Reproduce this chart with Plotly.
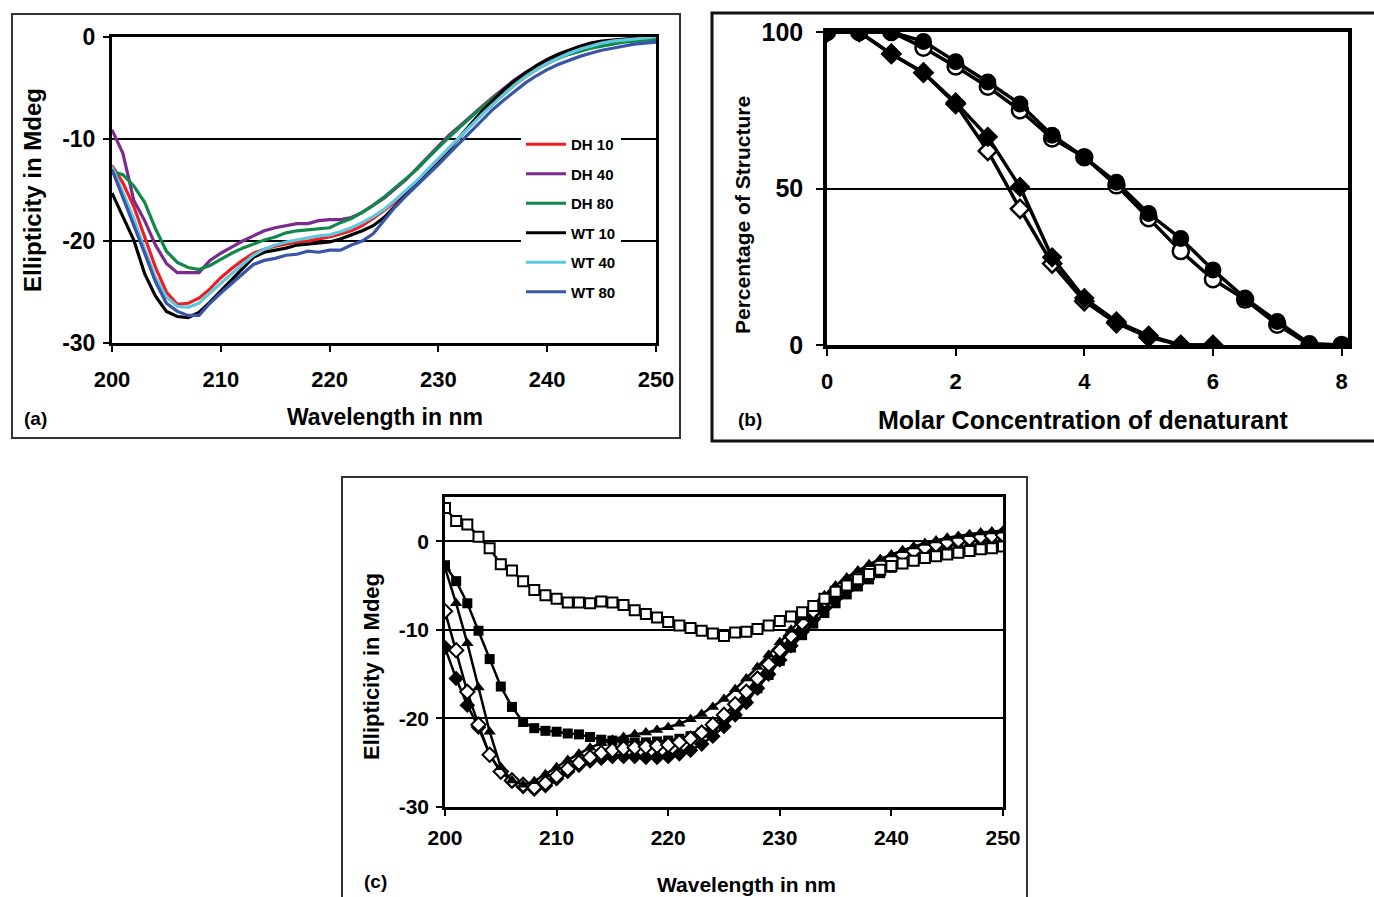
import plotly.graph_objects as go

W, H = 1374, 897
FONT = "Arial, Liberation Sans, sans-serif"

# ---------------- Panel (a) data ----------------
wl_a = list(range(200, 251))
dh10 = [-12.6, -14.3, -16.6, -19.5, -22.6, -25.0, -26.2, -26.1, -25.6, -24.7, -23.6, -22.7, -21.9, -21.2, -20.8, -20.5,
        -20.3, -20.1, -20.0, -19.8, -19.6, -19.3, -19.0, -18.5, -17.8, -17.0, -16.2, -15.3, -14.4, -13.3, -12.1, -10.9,
        -9.7, -8.6, -7.5, -6.5, -5.6, -4.7, -3.9, -3.2, -2.6, -2.0, -1.5, -1.1, -0.8, -0.6, -0.4, -0.25, -0.15, -0.05, 0.0]
dh40 = [-9.1, -11.4, -16.0, -18.0, -20.4, -22.2, -23.1, -23.1, -23.1, -21.9, -21.2, -20.6, -20.0, -19.5, -19.0, -18.7,
        -18.5, -18.3, -18.3, -18.0, -17.9, -17.9, -17.7, -17.2, -16.5, -15.8, -14.9, -14.0, -12.9, -11.8, -10.6, -9.6,
        -8.7, -7.7, -6.8, -5.9, -5.0, -4.2, -3.5, -2.9, -2.3, -1.8, -1.4, -1.1, -0.8, -0.6, -0.5, -0.4, -0.3, -0.2, -0.2]
dh80 = [-13.2, -13.5, -14.6, -16.2, -18.8, -21.0, -22.1, -22.6, -22.8, -22.4, -21.8, -21.2, -20.7, -20.3, -19.9, -19.6,
        -19.2, -19.0, -18.9, -18.8, -18.7, -18.2, -17.8, -17.2, -16.5, -15.7, -14.8, -13.9, -13.0, -11.9, -10.8, -9.8,
        -8.8, -7.8, -6.9, -6.0, -5.2, -4.4, -3.7, -3.1, -2.6, -2.1, -1.7, -1.4, -1.1, -0.9, -0.7, -0.5, -0.4, -0.3, -0.3]
wt10 = [-15.3, -17.6, -19.9, -23.2, -25.4, -26.9, -27.4, -27.5, -27.0, -26.0, -24.9, -23.8, -22.6, -21.6, -21.1, -20.9,
        -20.7, -20.4, -20.3, -20.2, -20.1, -19.8, -19.4, -19.0, -18.5, -17.7, -16.6, -15.5, -14.5, -13.4, -12.2, -11.0,
        -9.7, -8.5, -7.3, -6.2, -5.2, -4.3, -3.5, -2.8, -2.2, -1.7, -1.3, -0.9, -0.6, -0.4, -0.3, -0.2, -0.1, -0.05, 0.0]
wt40 = [-12.7, -15.3, -17.8, -20.8, -23.6, -25.5, -26.4, -26.5, -26.1, -25.1, -24.1, -23.2, -22.3, -21.4, -20.8, -20.4,
        -20.1, -19.9, -19.7, -19.5, -19.4, -19.1, -18.7, -18.2, -17.6, -16.9, -16.0, -15.1, -14.1, -13.0, -11.9, -10.8,
        -9.8, -8.7, -7.6, -6.6, -5.6, -4.7, -3.9, -3.2, -2.6, -2.1, -1.6, -1.2, -0.9, -0.6, -0.4, -0.3, -0.2, -0.1, 0.0]
wt80 = [-13.0, -15.7, -18.3, -21.2, -24.0, -26.1, -26.9, -27.3, -27.3, -26.1, -25.1, -24.2, -23.2, -22.3, -21.9, -21.7,
        -21.4, -21.3, -21.0, -21.1, -20.9, -20.9, -20.4, -20.0, -19.3, -18.0, -16.7, -15.6, -14.6, -13.6, -12.5, -11.4,
        -10.3, -9.2, -8.1, -7.1, -6.2, -5.3, -4.5, -3.8, -3.2, -2.7, -2.3, -1.9, -1.6, -1.3, -1.1, -0.9, -0.7, -0.6, -0.5]
series_a = [("DH 10", dh10, "#ee1c25"), ("DH 40", dh40, "#7b2a8e"), ("DH 80", dh80, "#10884a"),
            ("WT 10", wt10, "#000000"), ("WT 40", wt40, "#5fc8dc"), ("WT 80", wt80, "#3a55a8")]

# ---------------- Panel (b) data ----------------
conc_circ = [0, 0.5, 1, 1.5, 2, 2.5, 3, 3.5, 4, 4.5, 5, 5.5, 6, 6.5, 7, 7.5, 8]
circ_filled = [100, 100, 100, 97, 90.5, 84, 77, 67, 60, 52, 42, 34, 24, 15, 7.5, 0.5, 0]
circ_open = [100, 100, 100, 95, 89, 82.5, 75, 66, 60, 51, 40.5, 30, 21, 14.5, 6.5, 0, 0]
conc_diam = [0, 0.5, 1, 1.5, 2, 2.5, 3, 3.5, 4, 4.5, 5, 5.5, 6]
diam_filled = [100, 100, 93, 87, 77.5, 66.5, 50.5, 28, 15, 7.5, 3, 0, 0]
diam_open = [100, 100, 93, 87, 77, 62, 43.5, 26, 14, 7, 2.5, 0, 0]

# ---------------- Panel (c) data ----------------
wl_c = list(range(200, 251))
c_open_sq = [3.75, 2.3, 1.9, 0.5, -0.8, -2.6, -3.3, -4.5, -5.5, -6.1, -6.5, -6.9, -6.9, -7.0, -6.8, -6.9,
             -7.2, -7.8, -8.2, -8.6, -9.1, -9.5, -9.8, -10.1, -10.4, -10.7, -10.3, -10.2, -9.9, -9.5, -9.0, -8.5,
             -8.0, -7.3, -6.5, -5.7, -5.0, -4.3, -3.7, -3.2, -2.8, -2.5, -2.2, -1.9, -1.7, -1.5, -1.3, -1.1, -0.9, -0.8, -0.6]
c_fill_sq = [-2.7, -4.5, -7.0, -10.1, -13.3, -16.4, -18.7, -20.4, -21.1, -21.4, -21.5, -21.7, -21.8, -22.1, -22.4, -22.5,
             -22.6, -22.7, -22.7, -22.6, -22.5, -22.3, -22.0, -21.6, -21.0, -20.2, -19.2, -18.0, -16.6, -15.1, -13.5, -12.0,
             -10.6, -9.3, -8.1, -7.0, -6.0, -5.1, -4.3, -3.6, -3.0, -2.5, -2.0, -1.6, -1.3, -1.0, -0.8, -0.6, -0.4, -0.2, 0.0]
c_tri = [-3.0, -7.0, -11.5, -16.5, -21.5, -25.5, -27.0, -27.5, -27.1, -26.3, -25.5, -24.7, -24.0, -23.3, -22.8, -22.4,
         -22.1, -21.8, -21.6, -21.3, -21.0, -20.6, -20.1, -19.5, -18.7, -17.8, -16.7, -15.5, -14.2, -12.8, -11.4, -10.0,
         -8.6, -7.3, -6.1, -5.0, -4.1, -3.3, -2.6, -2.0, -1.5, -1.0, -0.6, -0.2, 0.1, 0.4, 0.6, 0.8, 1.0, 1.1, 1.2]
c_open_dm = [-7.9, -12.3, -17.0, -20.7, -24.1, -26.0, -27.0, -27.5, -27.8, -27.3, -26.5, -25.7, -25.0, -24.4, -23.9, -23.6,
             -23.4, -23.3, -23.2, -23.1, -23.0, -22.7, -22.3, -21.6, -20.7, -19.6, -18.4, -17.0, -15.5, -13.9, -12.3, -10.7,
             -9.2, -7.9, -6.7, -5.6, -4.6, -3.8, -3.1, -2.5, -2.0, -1.5, -1.1, -0.7, -0.4, -0.1, 0.1, 0.3, 0.5, 0.6, 0.7]
c_fill_dm = [-12.0, -15.5, -18.5, -21.0, -24.1, -26.0, -27.1, -27.7, -28.0, -27.6, -26.8, -26.0, -25.3, -24.8, -24.5, -24.3,
             -24.3, -24.3, -24.4, -24.4, -24.3, -24.0, -23.6, -22.9, -22.0, -20.9, -19.6, -18.2, -16.6, -15.0, -13.4, -11.8,
             -10.2, -8.8, -7.5, -6.3, -5.3, -4.4, -3.6, -3.0, -2.4, -1.9, -1.4, -1.0, -0.6, -0.3, 0.0, 0.3, 0.5, 0.7, 0.9]

wl_ticks = [200, 210, 220, 230, 240, 250]
ell_ticks = [0, -10, -20, -30]
ell_ticktext = ["0", "-10", "-20", "-30"]
pct_ticks = [0, 50, 100]
conc_ticks = [0, 2, 4, 6, 8]


def px(xp):
    return xp / W


def py(yp):
    return 1 - yp / H


fig = go.Figure()

# Panel (a) traces
for name, vals, col in series_a:
    fig.add_trace(go.Scatter(x=wl_a, y=vals, mode="lines", name=name, legendgroup=name,
                             line=dict(color=col, width=3.2), xaxis="x", yaxis="y"))

# Panel (b) traces
fig.add_trace(go.Scatter(x=conc_diam, y=diam_open, mode="lines+markers", showlegend=False,
                         line=dict(color="black", width=3.5),
                         marker=dict(symbol="diamond", size=14, color="white", line=dict(color="black", width=2.5)),
                         xaxis="x2", yaxis="y2"))
fig.add_trace(go.Scatter(x=conc_diam, y=diam_filled, mode="lines+markers", showlegend=False,
                         line=dict(color="black", width=3.5),
                         marker=dict(symbol="diamond", size=16, color="black"),
                         xaxis="x2", yaxis="y2"))
fig.add_trace(go.Scatter(x=conc_circ, y=circ_open, mode="lines+markers", showlegend=False,
                         line=dict(color="black", width=3.5),
                         marker=dict(symbol="circle", size=16, color="white", line=dict(color="black", width=2.5)),
                         xaxis="x2", yaxis="y2"))
fig.add_trace(go.Scatter(x=conc_circ, y=circ_filled, mode="lines+markers", showlegend=False,
                         line=dict(color="black", width=3.5),
                         marker=dict(symbol="circle", size=17, color="black"),
                         xaxis="x2", yaxis="y2"))

# Panel (c) traces
c_series = [
    (c_fill_sq, dict(symbol="square", size=10, color="black")),
    (c_fill_dm, dict(symbol="diamond", size=12, color="black")),
    (c_open_dm, dict(symbol="diamond", size=11, color="white", line=dict(color="black", width=2))),
    (c_tri, dict(symbol="triangle-up", size=11, color="black")),
    (c_open_sq, dict(symbol="square", size=10, color="white", line=dict(color="black", width=2))),
]
for vals, mk in c_series:
    fig.add_trace(go.Scatter(x=wl_c, y=vals, mode="lines+markers", showlegend=False,
                             line=dict(color="black", width=2.5), marker=mk, xaxis="x3", yaxis="y3"))


def tf(size):
    return dict(family=FONT, size=size, color="black", weight="bold")


common_axis = dict(showline=True, linecolor="black", mirror=True, ticks="outside",
                   tickcolor="black", zeroline=False, automargin=False)

fig.update_layout(
    template="none",
    width=W, height=H, margin=dict(l=0, r=0, t=0, b=0, autoexpand=False),
    paper_bgcolor="white", plot_bgcolor="white",
    font=dict(family=FONT, color="black"),
    # ---- (a)
    xaxis=dict(domain=[px(112), px(656)], range=[200, 250], tickvals=wl_ticks, showgrid=False,
               linewidth=3, ticklen=6, tickwidth=1.5, tickfont=tf(22), ticklabelstandoff=9,
               anchor="y", **common_axis),
    yaxis=dict(domain=[py(343), py(37)], range=[-30, 0], tickvals=ell_ticks, ticktext=ell_ticktext,
               showgrid=True, gridcolor="black", gridwidth=2, linewidth=3, ticklen=6, tickwidth=1.5,
               tickfont=tf(23), ticklabelstandoff=3, anchor="x", **common_axis),
    # ---- (b)
    xaxis2=dict(domain=[px(827), px(1348)], range=[0, 8.1], tickvals=conc_ticks, showgrid=False,
                linewidth=3.5, ticklen=7, tickwidth=2, tickfont=tf(22), ticklabelstandoff=7,
                anchor="y2", **common_axis),
    yaxis2=dict(domain=[py(345), py(32)], range=[0, 100], tickvals=pct_ticks, showgrid=True,
                gridcolor="black", gridwidth=2, linewidth=3.5, ticklen=7, tickwidth=2,
                tickfont=tf(25), ticklabelstandoff=8, anchor="x2", **common_axis),
    # ---- (c)
    xaxis3=dict(domain=[px(445), px(1003)], range=[200, 250], tickvals=wl_ticks, showgrid=False,
                linewidth=2.5, ticklen=6, tickwidth=1.5, tickfont=tf(21), ticklabelstandoff=4,
                anchor="y3", **common_axis),
    yaxis3=dict(domain=[py(807), py(497)], range=[-30, 5], tickvals=ell_ticks, ticktext=ell_ticktext,
                showgrid=True, gridcolor="black", gridwidth=2, linewidth=2.5, ticklen=6, tickwidth=1.5,
                tickfont=tf(21), ticklabelstandoff=3, anchor="x3", **common_axis),
    legend=dict(x=px(521), y=py(128), xanchor="left", yanchor="top", bgcolor="white",
                font=tf(15), tracegroupgap=7, itemwidth=40),
)

# Outer frames
frames = [
    (12, 14, 680, 438, 2, "#333333"),
    (712, 13, 1380, 441, 3, "#111111"),
    (342, 477, 1027, 902, 2, "#333333"),
]
for x0, y0, x1, y1, w, c in frames:
    fig.add_shape(type="rect", xref="paper", yref="paper", x0=px(x0), y0=py(y0), x1=px(x1), y1=py(y1),
                  line=dict(color=c, width=w), fillcolor="rgba(0,0,0,0)", layer="below")


def ann(text, x, y, size, angle=0):
    fig.add_annotation(text=text, x=px(x), y=py(y), xref="paper", yref="paper", showarrow=False,
                       textangle=angle, font=tf(size), xanchor="center", yanchor="middle")


ann("Ellipticity in Mdeg", 33, 190, 24, angle=-90)
ann("Wavelength in nm", 385, 417, 23)
ann("(a)", 35, 418, 19)
ann("Percentage of Structure", 742, 215, 21, angle=-90)
ann("Molar Concentration of denaturant", 1083, 420, 25)
ann("(b)", 750, 419, 19)
ann("Ellipticity in Mdeg", 371, 667, 22, angle=-90)
ann("Wavelength in nm", 746, 884, 21)
ann("(c)", 375, 881, 19)

fig.write_html(
    "out.html",
    config={"displayModeBar": False},
    post_script="document.body.style.margin='0';document.body.style.padding='0';"
                "document.documentElement.style.overflow='hidden';",
)
